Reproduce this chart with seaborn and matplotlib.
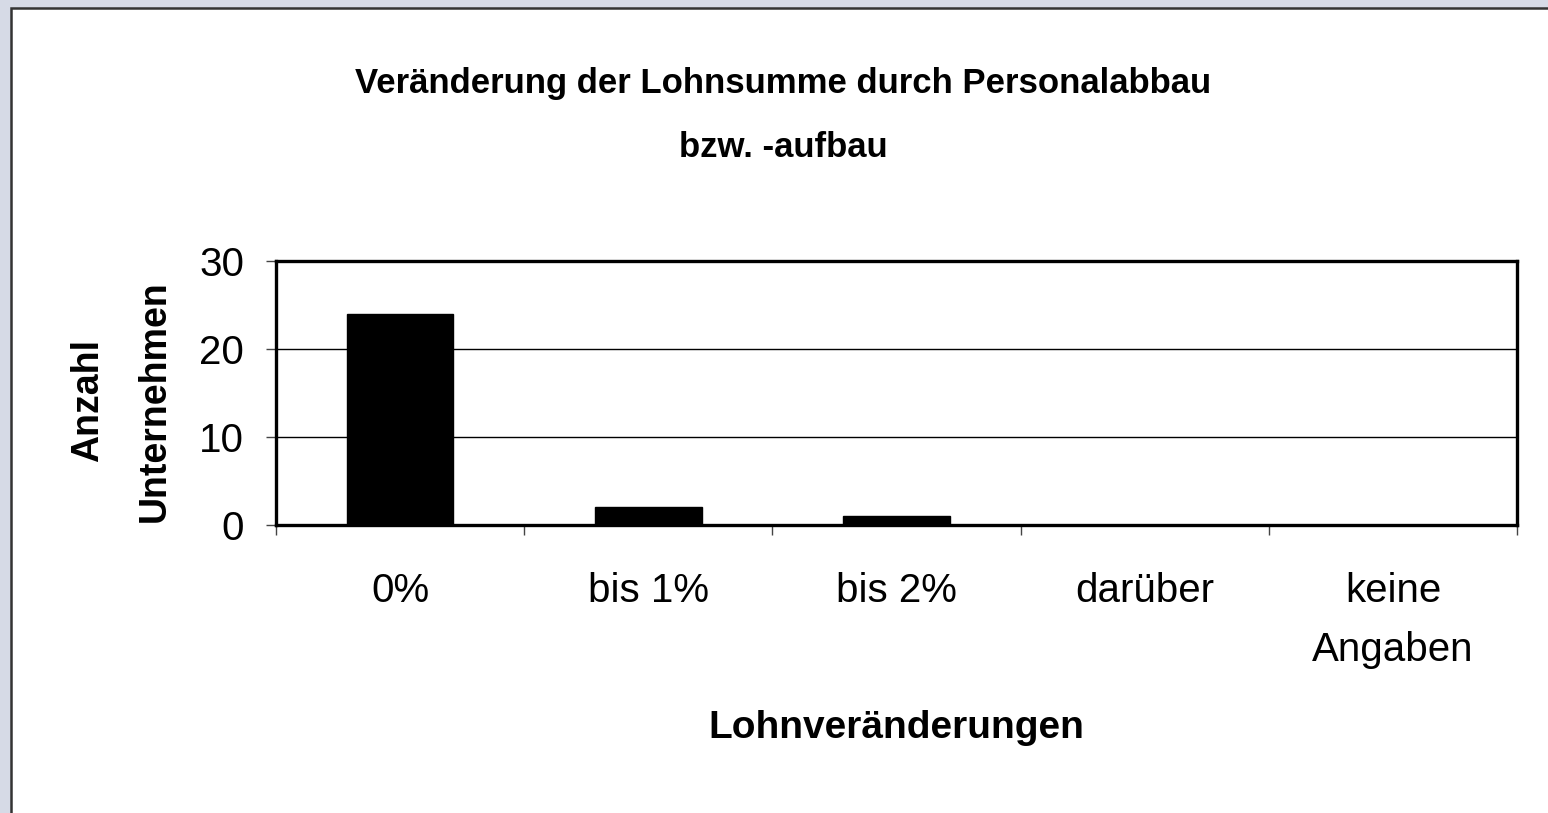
import matplotlib
matplotlib.use("Agg")
import matplotlib.pyplot as plt
import seaborn as sns
import pandas as pd
from matplotlib.patches import Rectangle
from matplotlib.ticker import FixedLocator

# data
categories = ["0%", "bis 1%", "bis 2%", "darüber", "keine\nAngaben"]
counts = [24, 2, 1, 0, 0]

title_line1 = "Veränderung der Lohnsumme durch Personalabbau"
title_line2 = "bzw. -aufbau"
x_label = "Lohnveränderungen"
y_label = "Anzahl\nUnternehmen"

sns.set_theme(style="white")
plt.rcParams['font.family'] = ['Liberation Sans', 'DejaVu Sans']
plt.rcParams['text.color'] = 'black'
plt.rcParams['axes.labelcolor'] = 'black'
plt.rcParams['xtick.labelcolor'] = 'black'
plt.rcParams['ytick.labelcolor'] = 'black'

df = pd.DataFrame({"kategorie": categories, "anzahl": counts})

fig = plt.figure(figsize=(15.48, 8.13), dpi=100, facecolor="#D6DAE6")
# white chart area with dark frame on the left/top
fig.patches.append(Rectangle((11 / 1548, -0.05), 1.1, 1 - 8 / 813 + 0.05,
                             transform=fig.transFigure, facecolor="white",
                             edgecolor="#333333", linewidth=1.8, zorder=-10))

ax = fig.add_axes([276 / 1548, 1 - 525 / 813, (1517 - 276) / 1548, (525 - 261) / 813])
ax.set_zorder(5)
ax.patch.set_alpha(0)
sns.barplot(data=df, x="kategorie", y="anzahl", color="black", saturation=1,
            width=0.43, edgecolor="black", ax=ax, zorder=3)

ax.set_ylim(0, 30)
ax.set_yticks([0, 10, 20, 30])
ax.set_xlim(-0.5, len(categories) - 0.5)
ax.yaxis.grid(True, color="black", linewidth=1)
ax.set_axisbelow(True)

for s in ax.spines.values():
    s.set_visible(True)
    s.set_color("black")
    s.set_linewidth(2.4)

ax.tick_params(axis="y", which="major", direction="out", length=7, width=1,
               color="#444444", pad=16, labelsize=29, left=True)
ax.tick_params(axis="x", which="major", length=0, pad=34, labelsize=29)
ax.xaxis.set_minor_locator(FixedLocator([i - 0.5 for i in range(len(categories) + 1)]))
ax.tick_params(axis="x", which="minor", direction="out", length=7, width=1,
               color="#444444", bottom=True)
for lab in ax.get_xticklabels():
    lab.set_linespacing(1.68)

ax.set_xlabel(x_label, fontsize=28, fontweight="bold")
ax.xaxis.set_label_coords(0.5, -0.70)
ax.set_ylabel(y_label, fontsize=27, fontweight="bold", linespacing=2.1)
ax.yaxis.set_label_coords(-0.083, 0.47)

fig.text(0.506, 1 - 93 / 813, title_line1, ha="center", va="baseline",
         fontsize=25, fontweight="bold")
fig.text(0.506, 1 - 157 / 813, title_line2, ha="center", va="baseline",
         fontsize=25, fontweight="bold")

fig.savefig("out.png", dpi=100, facecolor=fig.get_facecolor())
